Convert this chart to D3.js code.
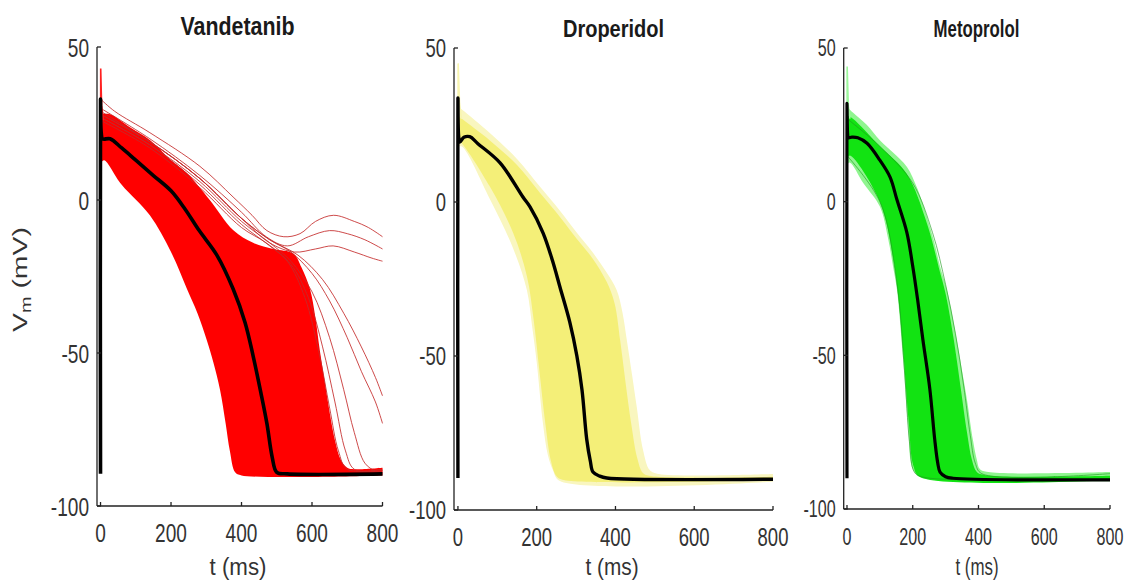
<!DOCTYPE html>
<html>
<head>
<meta charset="utf-8">
<script src="https://cdn.jsdelivr.net/npm/d3@7"></script>
<style>
  body { margin: 0; background: #fff; }
  svg { display: block; font-family: "Liberation Sans", Arial, sans-serif; }
</style>
</head>
<body>
<svg id="fig" width="1127" height="581"></svg>
<script>
// ---- shared axis ticks ----
const timeTicks = [0, 200, 400, 600, 800];
const voltageTicks = [-100, -50, 0, 50];
const drugNames = ["Vandetanib", "Droperidol", "Metoprolol"];

// ---- Vandetanib: population envelope [t ms, Vm mV], baseline trace, outliers ----
const vandetanibMean = [[0,-89.5],[0,33],[2,22],[6,20],[27,20],[60,17],[100,13],[150,8],[200,3],[240,-3],[280,-10],[330,-18],[376,-29],[410,-40],[433,-51],[455,-63],[472,-73],[487,-84],[500,-89],[530,-89.5],[800,-89.5]];
const vandetanibLate = [[0,28],[27,28],[80,24],[140,19.6],[200,13],[245,8.8],[310,0],[376,-9.8],[433,-14],[490,-16],[547,-17.5],[570,-22],[594,-29],[609,-38],[622,-49],[637,-60],[651,-70],[666,-79],[682,-85],[700,-87.5],[720,-88],[800,-87.5]];
const vandetanibEarly = [[0,12],[10,13],[60,5],[140,-5],[200,-17],[245,-29],[275,-37],[302,-46],[320,-53],[339,-62],[355,-73],[367,-82],[382,-89],[400,-90],[800,-90]];
const vandetanibOutliers = [
  [[0,33],[40,29],[140,22],[282,11],[376,1],[430,-5],[472,-10],[520,-12],[566,-11],[610,-7],[661,-5],[720,-7],[760,-9],[800,-12]],
  [[0,30],[140,20],[282,8],[400,-4],[470,-12],[530,-15],[590,-12],[650,-10],[700,-11],[750,-13],[800,-16]],
  [[0,29],[140,19],[282,7],[400,-6],[480,-14],[550,-17],[610,-16],[660,-15],[720,-17],[770,-19],[800,-20]],
  [[0,28],[140,19],[282,7],[400,-6],[480,-13],[540,-17],[600,-24],[650,-33],[700,-45],[740,-56],[780,-66],[800,-73]],
  [[0,28],[140,19],[282,7],[400,-6],[480,-13],[560,-18],[630,-26],[690,-37],[740,-48],[780,-58],[800,-64]],
  [[0,27],[140,18],[282,6],[400,-7],[480,-14],[540,-20],[600,-30],[650,-45],[690,-62],[720,-76],[750,-86],[780,-88.5],[800,-88.5]],
  [[0,27],[140,18],[282,5],[400,-8],[480,-15],[540,-21],[590,-32],[630,-48],[665,-66],[695,-82],[720,-88],[800,-88.5]],
  [[0,26],[140,17],[282,4],[400,-9],[470,-14],[530,-20],[580,-32],[620,-50],[650,-68],[675,-82],[700,-88],[800,-88]]
];
const vandetanibSpike = [[0,-89],[0.5,43],[3,31],[8,26]];

// ---- Droperidol ----
const droperidolMean = [[0,-89.6],[0,33.8],[2,21],[5,19.5],[15,21],[30,21.2],[50,19],[107,12.7],[165,1.6],[183,-1.6],[216,-10],[240,-19],[259,-27.6],[284,-39],[302,-50],[315,-61],[327,-77],[336,-84],[343,-87.7],[360,-89],[378,-89.6],[800,-90]];
const droperidolLate = [[0,31],[10,30],[81,22.4],[150,14],[208,5],[260,-3],[302,-10],[340,-16],[378,-23],[403,-28.6],[418,-36],[429,-45],[442,-56],[454,-66.5],[470,-80.5],[487,-87],[510,-88.3],[800,-88.3]];
const droperidolEarly = [[0,18],[10,18],[81,1],[140,-15],[175,-28.6],[188,-40],[200,-52],[216,-72],[228,-82],[241,-87],[259,-90.6],[800,-90.8]];
const droperidolCoreLate = [[0,28],[10,27],[81,20],[150,12],[208,3],[260,-5],[302,-12],[340,-18],[378,-26],[398,-33],[412,-45],[425,-58],[440,-72],[455,-83],[470,-88],[490,-89],[800,-89.2]];
const droperidolCoreEarly = [[0,20],[10,19],[81,5],[140,-10],[175,-24],[192,-38],[207,-55],[222,-72],[236,-84],[250,-89],[265,-90.2],[800,-90.3]];
const droperidolSpike = [[0,-89],[0.5,45],[4,32],[9,27]];

// ---- Metoprolol ----
const metoprololMean = [[0,-90],[0,32],[2,22],[4,20.8],[15,21],[33,20.8],[61,19],[100,13.5],[131,8],[152,0.6],[182,-10],[200,-21],[215,-32],[231,-45],[252,-61],[267,-77.5],[276,-85],[283,-88],[300,-89.5],[322,-90],[800,-90.5]];
const metoprololLate = [[0,31],[18,29],[60,25],[100,20],[140,16],[182,11.4],[215,4],[243,-4.9],[265,-13],[283,-21],[304,-28.7],[334,-45],[350,-55],[365,-64.5],[383,-77.5],[395,-84],[404,-87],[430,-88],[800,-88]];
const metoprololEarly = [[0,12],[9,12.7],[50,6],[100,-1.6],[125,-12],[140,-21],[152,-28.7],[170,-50.5],[185,-72],[200,-87],[222,-89.6],[260,-90.5],[800,-91]];
const metoprololCoreLate = [[0,28],[18,27],[100,18],[182,9],[243,-7],[283,-23],[300,-30],[325,-45],[345,-60],[365,-75],[380,-84],[395,-88],[420,-89],[800,-89.2]];
const metoprololCoreEarly = [[0,14],[9,15],[100,0],[140,-18],[155,-30],[172,-50],[188,-72],[202,-86],[222,-89.6],[800,-90.6]];
const metoprololEdges = [
  [[0,27],[100,18],[200,6],[260,-10],[300,-27],[330,-43],[355,-60],[375,-76],[390,-85],[410,-88.5],[800,-88.5]],
  [[0,15],[100,0],[150,-25],[175,-55],[190,-78],[205,-88],[230,-89.6],[800,-90.2]]
];
const metoprololSpike = [[0,-89],[0.5,44],[4,31],[9,27]];

// ---- panel settings ----
const panels = [
  { name: drugNames[0], mean: vandetanibMean,
    bands: [{ late: vandetanibLate, early: vandetanibEarly, fill: "#ff0000" }],
    lines: vandetanibOutliers, lineColor: "#c42a2a", lineWidth: 1, lineOpacity: 0.85,
    spike: vandetanibSpike, spikeColor: "#ff2020",
    x0: 97, x1: 382.5, yTop: 47, yBot: 506,
    tick: { size: 26.5, sx: 0.72 }, title: { x: 237.5, y: 35, size: 25.5, sx: 0.84 },
    xlab: { x: 238, y: 575, size: 24.5, sx: 0.91 }, meanWidth: 3.6 },
  { name: drugNames[1], mean: droperidolMean,
    bands: [{ late: droperidolLate, early: droperidolEarly, fill: "#f9f6bf" },
            { late: droperidolCoreLate, early: droperidolCoreEarly, fill: "#f4ef78" }],
    lines: [], spike: droperidolSpike, spikeColor: "#f8f5b0",
    x0: 454, x1: 773, yTop: 48, yBot: 510,
    tick: { size: 25, sx: 0.74 }, title: { x: 613.5, y: 37, size: 23, sx: 0.87 },
    xlab: { x: 612, y: 575, size: 24.5, sx: 0.85 }, meanWidth: 3.4 },
  { name: drugNames[2], mean: metoprololMean,
    bands: [{ late: metoprololLate, early: metoprololEarly, fill: "#8ff58f" },
            { late: metoprololCoreLate, early: metoprololCoreEarly, fill: "#12e312" }],
    lines: metoprololEdges, lineColor: "#1f9a1f", lineWidth: 0.9, lineOpacity: 0.7,
    spike: metoprololSpike, spikeColor: "#9cf79c",
    x0: 843.7, x1: 1110, yTop: 48, yBot: 509,
    tick: { size: 23, sx: 0.70 }, title: { x: 976.5, y: 37, size: 23, sx: 0.73 },
    xlab: { x: 977, y: 575, size: 24.5, sx: 0.69 }, meanWidth: 3.2 }
];

const svg = d3.select("#fig");
const defs = svg.append("defs");

function scaledText(g, x, y, str, size, sx, anchor, opts = {}) {
  return g.append("text")
    .attr("transform", `translate(${x},${y}) scale(${sx},1)`)
    .attr("text-anchor", anchor)
    .attr("font-size", size)
    .attr("font-weight", opts.bold ? "bold" : "normal")
    .attr("fill", opts.color || "#333")
    .text(str);
}

panels.forEach((p, i) => {
  const x = d3.scaleLinear().domain([-10, 800]).range([p.x0, p.x1]);
  const y = d3.scaleLinear().domain([-100, 50]).range([p.yBot, p.yTop]);
  const line = d3.line().x(d => x(d[0])).y(d => y(d[1])).curve(d3.curveCatmullRom.alpha(0.5));

  const clipId = "clip" + i;
  defs.append("clipPath").attr("id", clipId)
    .append("rect").attr("x", p.x0 + 1).attr("y", 0)
    .attr("width", p.x1 - p.x0).attr("height", p.yBot - 1);

  const g = svg.append("g");
  const plot = g.append("g").attr("clip-path", `url(#${clipId})`);

  // population envelope(s): late edge forward, early edge back
  p.bands.forEach(b => {
    const upper = line(b.late);
    const lower = line(b.early.slice().reverse()).replace(/^M/, "L");
    plot.append("path").attr("d", upper + lower + "Z").attr("fill", b.fill).attr("stroke", "none");
  });

  // individual traces at the edges of the population
  p.lines.forEach(tr => {
    plot.append("path").attr("d", line(tr)).attr("fill", "none")
      .attr("stroke", p.lineColor).attr("stroke-width", p.lineWidth)
      .attr("stroke-opacity", p.lineOpacity);
  });

  // upstroke overshoot
  plot.append("path").attr("d", d3.line().x(d => x(d[0])).y(d => y(d[1]))(p.spike))
    .attr("fill", "none").attr("stroke", p.spikeColor).attr("stroke-width", 1.6);

  // baseline (control) action potential
  plot.append("path").attr("d", line(p.mean)).attr("fill", "none")
    .attr("stroke", "#000").attr("stroke-width", p.meanWidth)
    .attr("stroke-linejoin", "round");

  // axes (box off, ticks pointing inward)
  const axG = g.append("g").attr("stroke", "#222").attr("stroke-width", 1.3).attr("fill", "none");
  axG.append("line").attr("x1", p.x0).attr("x2", p.x0).attr("y1", y(50)).attr("y2", y(-100));
  axG.append("line").attr("x1", p.x0).attr("x2", p.x1).attr("y1", y(-100)).attr("y2", y(-100));
  voltageTicks.forEach(v => {
    axG.append("line").attr("x1", p.x0).attr("x2", p.x0 + 4).attr("y1", y(v)).attr("y2", y(v));
    scaledText(g, p.x0 - 8, y(v) + p.tick.size * 0.36, String(v), p.tick.size, p.tick.sx, "end");
  });
  timeTicks.forEach(t => {
    axG.append("line").attr("x1", x(t)).attr("x2", x(t)).attr("y1", y(-100)).attr("y2", y(-100) - 4);
    scaledText(g, x(t), y(-100) + 36, String(t), p.tick.size, p.tick.sx, "middle");
  });

  scaledText(g, p.title.x, p.title.y, p.name, p.title.size, p.title.sx, "middle", { bold: true, color: "#1a1a1a" });
  scaledText(g, p.xlab.x, p.xlab.y, "t (ms)", p.xlab.size, p.xlab.sx, "middle");
});

// shared y-axis label
const yl = svg.append("text")
  .attr("transform", "translate(27,332) rotate(-90) scale(1.42,1)")
  .attr("font-size", 20).attr("fill", "#333");
yl.append("tspan").text("V");
yl.append("tspan").attr("font-size", 14).attr("dy", 4).text("m");
yl.append("tspan").attr("dy", -4).text(" (mV)");
</script>
</body>
</html>
